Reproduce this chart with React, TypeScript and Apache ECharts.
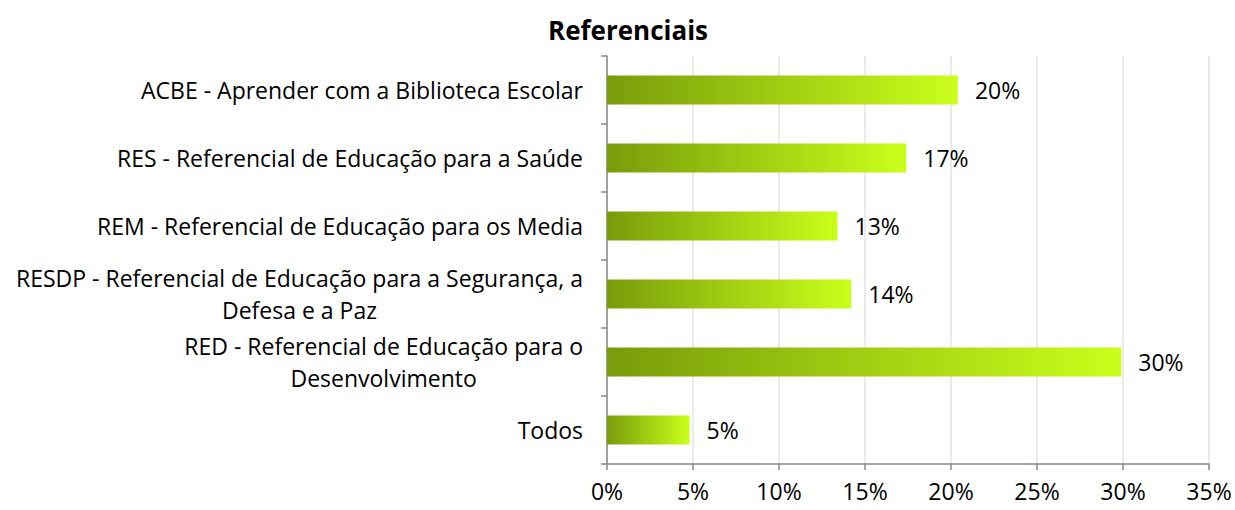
import React, { useEffect, useRef } from "react";
import * as echarts from "echarts";

const categories = [
  "ACBE - Aprender com a Biblioteca Escolar",
  "RES - Referencial de Educação para a Saúde",
  "REM - Referencial de Educação para os Media",
  "RESDP - Referencial de Educação para a Segurança, a\nDefesa e a Paz",
  "RED - Referencial de Educação para o\nDesenvolvimento",
  "Todos",
];
const values = [20.4, 17.4, 13.4, 14.2, 29.9, 4.8];
const xTicks = [0, 5, 10, 15, 20, 25, 30, 35];

const FONT = "Open Sans";

export default function App() {
  const ref = useRef<HTMLDivElement>(null);
  useEffect(() => {
    if (!ref.current) return;
    const chart = echarts.init(ref.current, null, { renderer: "svg" });
    chart.setOption({
      animation: false,
      backgroundColor: "#ffffff",
      title: {
        text: "Referenciais",
        left: 623,
        top: 12,
        textAlign: "center",
        textStyle: { fontFamily: FONT, fontSize: 26, fontWeight: "bold", color: "#000" },
      },
      grid: { left: 607, right: 26, top: 56, bottom: 46, containLabel: false },
      xAxis: {
        type: "value",
        min: xTicks[0],
        max: xTicks[xTicks.length - 1],
        interval: 5,
        axisLine: { show: true, lineStyle: { color: "#888888", width: 1.5 } },
        axisTick: { show: true, length: 6, lineStyle: { color: "#888888", width: 1.5 } },
        splitLine: { show: true, lineStyle: { color: "#e4e4e4", width: 1.5 } },
        axisLabel: {
          margin: 15,
          fontFamily: FONT,
          fontSize: 23,
          lineHeight: 24,
          color: "#000",
          formatter: (v: number) => `${v}%`,
        },
      },
      yAxis: {
        type: "category",
        inverse: true,
        data: categories,
        axisLine: { show: true, lineStyle: { color: "#888888", width: 1.5 } },
        axisTick: { show: true, length: 6, lineStyle: { color: "#888888", width: 1.5 } },
        splitLine: { show: false },
        axisLabel: {
          margin: 24,
          align: "right",
          formatter: (v: string) =>
            v
              .split("\n")
              .map((l) => `{c|${l}}`)
              .join("\n"),
          rich: {
            c: {
              align: "center",
              fontFamily: FONT,
              fontSize: 23,
              lineHeight: 32,
              color: "#000",
            },
          },
        },
      },
      series: [
        {
          type: "bar",
          data: values,
          barWidth: 29,
          itemStyle: {
            color: new echarts.graphic.LinearGradient(0, 0, 1, 0, [
              { offset: 0, color: "#789c0a" },
              { offset: 1, color: "#caff1a" },
            ]),
          },
          label: {
            show: true,
            position: "right",
            distance: 17,
            fontFamily: FONT,
            fontSize: 23,
            color: "#000",
            formatter: (p: any) => `${Math.round(p.value)}%`,
          },
        },
      ],
    });
    return () => chart.dispose();
  }, []);
  return (
    <div
      ref={ref}
      style={{ position: "fixed", left: 0, top: 0, width: 1235, height: 510 }}
    />
  );
}
